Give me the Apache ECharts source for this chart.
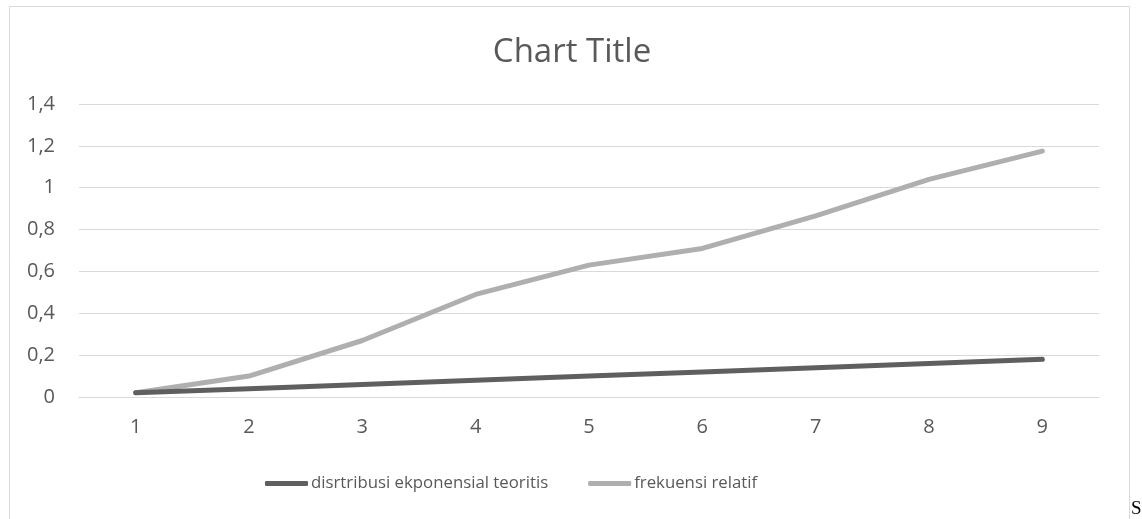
<!DOCTYPE html>
<html>
<head>
    <meta charset="utf-8">
    <script src="https://cdn.jsdelivr.net/npm/echarts@6/dist/echarts.min.js"></script>
    <style>
        html, body { margin: 0; padding: 0; background: #fff; }
        #chart { width: 1142px; height: 519px; }
    </style>
</head>
<body>
    <div id="chart"></div>
    <script>
        var categories = ['1', '2', '3', '4', '5', '6', '7', '8', '9'];
        var teoritis = [0.02, 0.04, 0.06, 0.08, 0.10, 0.12, 0.14, 0.16, 0.18];
        var relatif = [0.02, 0.10, 0.27, 0.49, 0.63, 0.71, 0.865, 1.04, 1.175];
        var seriesNames = ['disrtribusi ekponensial teoritis', 'frekuensi relatif'];

        var font = '"Open Sans", "Noto Sans", sans-serif';
        var chart = echarts.init(document.getElementById('chart'));

        chart.setOption({
            animation: false,
            title: {
                text: 'Chart Title',
                left: 567,
                top: 31,
                textAlign: 'center',
                textStyle: { fontFamily: font, fontSize: 33, fontWeight: 'normal', color: '#595959' }
            },
            legend: {
                bottom: 22,
                left: 260,
                itemWidth: 43,
                itemHeight: 5,
                itemGap: 40,
                icon: 'roundRect',
                textStyle: { fontFamily: font, fontSize: 16.8, color: '#595959', padding: [0, 0, 0, -2] },
                data: seriesNames
            },
            grid: { left: 79, right: 43, top: 104, bottom: 122 },
            xAxis: {
                type: 'category',
                data: categories,
                boundaryGap: true,
                axisLine: { lineStyle: { color: '#d9d9d9', width: 1 } },
                axisTick: { show: false },
                axisLabel: { fontFamily: font, fontSize: 20, color: '#595959', margin: 20 }
            },
            yAxis: {
                type: 'value',
                min: 0,
                max: 1.4,
                interval: 0.2,
                axisLine: { show: false },
                axisTick: { show: false },
                splitLine: { lineStyle: { color: '#d9d9d9', width: 1 } },
                axisLabel: {
                    fontFamily: font, fontSize: 20, color: '#595959', margin: 24,
                    formatter: function (v) { return String(Math.round(v * 10) / 10).replace('.', ','); }
                }
            },
            series: [
                {
                    name: seriesNames[0],
                    type: 'line',
                    data: teoritis,
                    symbol: 'none',
                    color: '#5f5f5f',
                    lineStyle: { width: 5, color: '#5f5f5f', cap: 'round', join: 'round' },
                    z: 3
                },
                {
                    name: seriesNames[1],
                    type: 'line',
                    data: relatif,
                    symbol: 'none',
                    color: '#afafaf',
                    lineStyle: { width: 5, color: '#afafaf', cap: 'round', join: 'round' },
                    z: 2
                }
            ],
            graphic: [
                {
                    type: 'rect',
                    shape: { x: 9.5, y: 6.5, width: 1120, height: 530 },
                    style: { fill: 'none', stroke: '#d9d9d9', lineWidth: 1 },
                    silent: true
                },
                {
                    type: 'text',
                    left: 1131,
                    top: 500,
                    style: { text: 'S', font: '19px "Liberation Serif", serif', fill: '#000' }
                }
            ]
        });
    </script>
</body>
</html>
